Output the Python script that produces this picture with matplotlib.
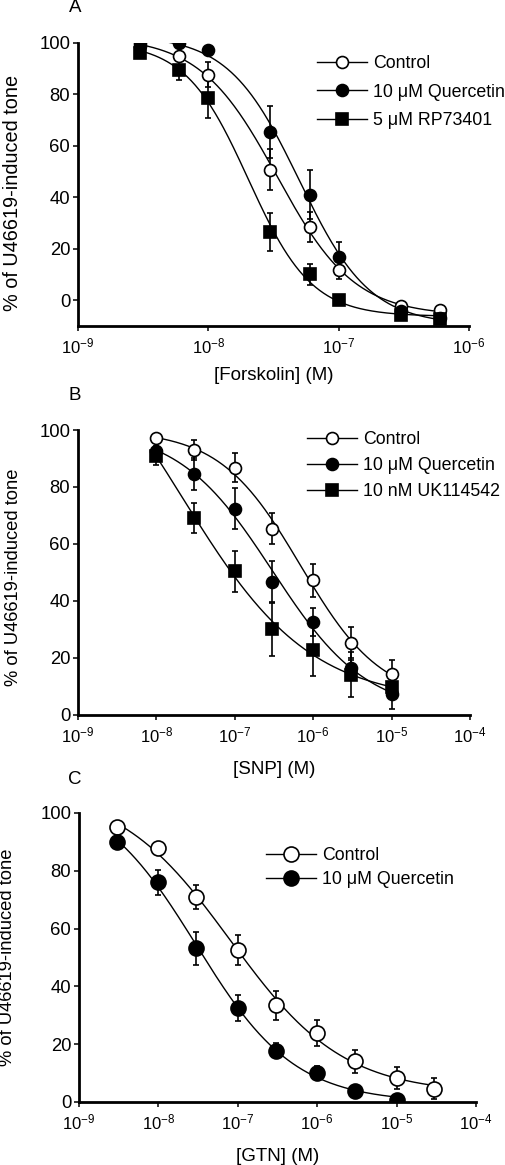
import numpy as np
import matplotlib
matplotlib.use('Agg')
import matplotlib.pyplot as plt
from matplotlib.lines import Line2D
from matplotlib.ticker import LogFormatterMathtext, NullLocator, FixedLocator

plt.rcParams['font.family'] = ['Liberation Sans', 'DejaVu Sans']
plt.rcParams['mathtext.fontset'] = 'custom'
plt.rcParams['mathtext.rm'] = 'Liberation Sans'
plt.rcParams['mathtext.it'] = 'Liberation Sans:italic'
plt.rcParams['mathtext.bf'] = 'Liberation Sans:bold'
plt.rcParams['font.size'] = 13

# Panel A - forskolin
forskolin_conc = [3e-9, 6e-9, 1e-8, 3e-8, 6e-8, 1e-7, 3e-7, 6e-7]
A_control = [98.8, 94.8, 87.7, 50.8, 28.5, 11.6, -2.2, -3.9]
A_control_err = [0, 0, 4.8, 7.8, 5.9, 3.2, 1, 1]
A_quer = [100, 100, 97.4, 65.5, 41.1, 17.0, -4.1, -7.0]
A_quer_err = [0, 0, 0, 10.2, 9.4, 5.8, 0, 0]
A_rp = [96.1, 89.4, 78.7, 26.6, 10.1, 0.0, -5.8, -7.4]
A_rp_err = [0, 3.9, 7.8, 7.5, 4.0, 1.5, 0, 0]

# Panel B - SNP
snp_conc = [1e-8, 3e-8, 1e-7, 3e-7, 1e-6, 3e-6, 1e-5]
B_control = [97.1, 93.0, 86.8, 65.4, 47.2, 25.4, 14.2]
B_control_err = [1, 3.5, 5.2, 5.3, 5.8, 5.3, 5.1]
B_quer = [92.5, 84.6, 72.3, 46.8, 32.7, 16.4, 7.4]
B_quer_err = [2, 5.6, 7.2, 7.2, 4.9, 3, 5.3]
B_uk = [90.9, 69.1, 50.5, 30.1, 22.7, 14.1, 9.7]
B_uk_err = [3.1, 5.2, 7.2, 9.3, 8.9, 7.9, 2]

# Panel C - GTN
gtn_conc = [3e-9, 1e-8, 3e-8, 1e-7, 3e-7, 1e-6, 3e-6, 1e-5, 3e-5]
C_control = [95.2, 87.9, 70.9, 52.5, 33.4, 23.9, 14.1, 8.3, 4.6]
C_control_err = [0.5, 0.5, 4.3, 5.2, 4.9, 4.6, 4.0, 3.7, 3.7]
gtn_conc_q = [3e-9, 1e-8, 3e-8, 1e-7, 3e-7, 1e-6, 3e-6, 1e-5]
C_quer = [89.9, 76.0, 53.1, 32.5, 17.8, 10.0, 3.9, 0.8]
C_quer_err = [0.5, 4.4, 5.6, 4.6, 2.6, 2.5, 0.5, 0.5]


def hill_fit(conc, resp):
    # least squares sigmoid fit: grid over logEC50 / slope, top & bottom solved linearly
    lx = np.log10(conc)
    y = np.asarray(resp, dtype=float)
    lec = np.arange(lx.min() - 0.5, lx.max() + 0.5, 0.01)
    h = np.arange(0.3, 3.0, 0.01)
    s = 1.0 / (1.0 + 10 ** ((lx[None, None, :] - lec[:, None, None]) * h[None, :, None]))
    sm = s.mean(axis=2, keepdims=True)
    ym = y.mean()
    span = ((s - sm) * (y - ym)).sum(axis=2) / ((s - sm) ** 2).sum(axis=2)
    bottom = ym - span * sm[..., 0]
    res = ((bottom[..., None] + span[..., None] * s - y) ** 2).sum(axis=2)
    i, j = np.unravel_index(np.argmin(res), res.shape)
    xs = np.logspace(lx.min(), lx.max(), 300)
    ys = bottom[i, j] + span[i, j] / (1.0 + 10 ** ((np.log10(xs) - lec[i]) * h[j]))
    return xs, ys


def draw_series(ax, conc, resp, err, marker, face, ms):
    xs, ys = hill_fit(conc, resp)
    ax.plot(xs, ys, color='k', lw=1.0, zorder=2)
    ax.errorbar(conc, resp, yerr=err, fmt='none', ecolor='k', elinewidth=1.2,
                capsize=2.2, capthick=1.2, zorder=2)
    ax.plot(conc, resp, ls='none', marker=marker, ms=ms, mfc=face, mec='k',
            mew=1.2, zorder=3)


def style_axes(ax, xmin, xmax, ymin, xlabel, ylab_x, ylab_y, ylab_fs, xlab_y):
    ax.set_xscale('log')
    ax.set_xlim(xmin, xmax)
    ax.set_ylim(ymin, 100)
    ax.xaxis.set_major_locator(FixedLocator([10.0 ** k for k in range(int(np.log10(xmin)), int(np.log10(xmax)) + 1)]))
    ax.xaxis.set_major_formatter(LogFormatterMathtext())
    ax.xaxis.set_minor_locator(NullLocator())
    ax.set_yticks([0, 20, 40, 60, 80, 100])
    for sp in ['top', 'right']:
        ax.spines[sp].set_visible(False)
    for sp in ['left', 'bottom']:
        ax.spines[sp].set_linewidth(2.0)
    ax.tick_params(direction='out', length=3.6, width=1.1)
    ax.tick_params(axis='y', labelsize=13.3, pad=2)
    ax.tick_params(axis='x', labelsize=12, pad=4)
    ax.set_xlabel(xlabel, fontsize=13.5)
    ax.xaxis.set_label_coords(0.5, xlab_y)
    ax.set_ylabel('% of U46619-induced tone', fontsize=ylab_fs)
    ax.yaxis.set_label_coords(ylab_x, ylab_y)


fig = plt.figure(figsize=(5.05, 11.65), dpi=100)
axA = fig.add_axes([0.1545, 0.7202, 0.774, 0.2429])
axB = fig.add_axes([0.1545, 0.3863, 0.776, 0.2446])
axC = fig.add_axes([0.1564, 0.0541, 0.786, 0.2481])

# A
draw_series(axA, forskolin_conc, A_control, A_control_err, 'o', 'white', 8.6)
draw_series(axA, forskolin_conc, A_rp, A_rp_err, 's', 'black', 8.6)
draw_series(axA, forskolin_conc, A_quer, A_quer_err, 'o', 'black', 8.6)
style_axes(axA, 1e-9, 1e-6, -10, '[Forskolin] (M)', -0.143, 0.47, 14.3, -0.145)
hA = [Line2D([], [], color='k', lw=1.0, marker='o', ms=8.6, mfc='white', mec='k', mew=1.2),
      Line2D([], [], color='k', lw=1.0, marker='o', ms=8.6, mfc='black', mec='k', mew=1.2),
      Line2D([], [], color='k', lw=1.0, marker='s', ms=8.6, mfc='black', mec='k', mew=1.2)]
axA.legend(hA, ['Control', '10 μM Quercetin', '5 μM RP73401'], loc='upper left',
           bbox_to_anchor=(0.612, 0.958), frameon=False, borderpad=0, borderaxespad=0,
           handlelength=2.8, handletextpad=0.34, labelspacing=0.66, fontsize=12.8)

# B
draw_series(axB, snp_conc, B_uk, B_uk_err, 's', 'black', 8.6)
draw_series(axB, snp_conc, B_quer, B_quer_err, 'o', 'black', 8.6)
draw_series(axB, snp_conc, B_control, B_control_err, 'o', 'white', 8.6)
style_axes(axB, 1e-9, 1e-4, 0, '[SNP] (M)', -0.143, 0.484, 13.2, -0.163)
hB = [Line2D([], [], color='k', lw=1.0, marker='o', ms=8.6, mfc='white', mec='k', mew=1.2),
      Line2D([], [], color='k', lw=1.0, marker='o', ms=8.6, mfc='black', mec='k', mew=1.2),
      Line2D([], [], color='k', lw=1.0, marker='s', ms=8.6, mfc='black', mec='k', mew=1.2)]
axB.legend(hB, ['Control', '10 μM Quercetin', '10 nM UK114542'], loc='upper left',
           bbox_to_anchor=(0.584, 0.996), frameon=False, borderpad=0, borderaxespad=0,
           handlelength=2.8, handletextpad=0.34, labelspacing=0.5, fontsize=12.8)

# C
draw_series(axC, gtn_conc, C_control, C_control_err, 'o', 'white', 10.8)
draw_series(axC, gtn_conc_q, C_quer, C_quer_err, 'o', 'black', 10.8)
style_axes(axC, 1e-9, 1e-4, 0, '[GTN] (M)', -0.159, 0.50, 13.2, -0.158)
hC = [Line2D([], [], color='k', lw=1.0, marker='o', ms=10.8, mfc='white', mec='k', mew=1.2),
      Line2D([], [], color='k', lw=1.0, marker='o', ms=10.8, mfc='black', mec='k', mew=1.2)]
axC.legend(hC, ['Control', '10 μM Quercetin'], loc='upper left',
           bbox_to_anchor=(0.471, 0.882), frameon=False, borderpad=0, borderaxespad=0,
           handlelength=2.8, handletextpad=0.34, labelspacing=0.38, fontsize=12.8)

fig.text(75 / 505, 1 - 8 / 1165, 'A', ha='center', va='center', fontsize=13.5)
fig.text(75 / 505, 1 - 395 / 1165, 'B', ha='center', va='center', fontsize=13.5)
fig.text(75 / 505, 1 - 780 / 1165, 'C', ha='center', va='center', fontsize=13.5)

plt.savefig('out.png', dpi=100)
